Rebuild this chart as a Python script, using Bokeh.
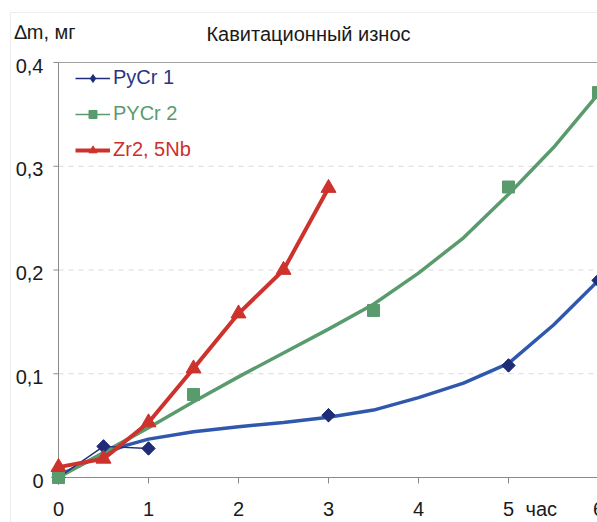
from bokeh.plotting import figure
from bokeh.models import (Range1d, Label, LabelSet, Legend, LegendItem,
                          BoxAnnotation, ColumnDataSource)
from bokeh.core.properties import value
from bokeh.embed import file_html
from bokeh.resources import INLINE

# ---- data ----
x_ticks = [0, 1, 2, 3, 4, 5, 6]
x_tick_labels = ["0", "1", "2", "3", "4", "5", "6"]
y_ticks = [0, 0.1, 0.2, 0.3, 0.4]
y_tick_labels = ["0", "0,1", "0,2", "0,3", "0,4"]

series_names = ["PyCr 1", "PYCr 2", "Zr2, 5Nb"]

hours_pycr1 = [0, 0.5, 1, 3, 5, 6]
dm_pycr1 = [0.0, 0.03, 0.028, 0.06, 0.108, 0.19]

hours_pycr2 = [0, 1.5, 3.5, 5, 6]
dm_pycr2 = [0.0, 0.08, 0.161, 0.28, 0.371]

hours_zr = [0, 0.5, 1, 1.5, 2, 2.5, 3]
dm_zr = [0.01, 0.018, 0.053, 0.105, 0.158, 0.2, 0.279]

# trend curves
trend_hours = [0, 0.25, 0.5, 0.75, 1, 1.5, 2, 2.5, 3, 3.5, 4, 4.5, 5, 5.5, 6]
trend_pycr1 = [0.002, 0.012, 0.023, 0.031, 0.037, 0.044, 0.049, 0.053, 0.058,
               0.065, 0.077, 0.091, 0.11, 0.147, 0.19]
trend_pycr2 = [0.0, 0.012, 0.024, 0.036, 0.048, 0.073, 0.097, 0.12, 0.143,
               0.167, 0.197, 0.231, 0.273, 0.318, 0.37]

title_text = "Кавитационный износ"
y_title = "\u2206m, мг"
x_title = "час"

# ---- layout / styling ----
W, H = 597, 522
X0_PX, X_SCALE = 58, 90.0       # pixel of x=0, pixels per hour
Y0_PX, Y_SCALE = 477, 1037.5    # pixel of y=0, pixels per mg

FONT = "Liberation Sans"
TXT = "#1a1a1a"
NAVY = "#1f2d78"
BLUE = "#2f58ad"
GREEN = "#5a9b6e"
RED = "#cd322d"
AXIS = "#8a8a8a"

p = figure(width=W, height=H, output_backend="svg", toolbar_location=None,
           title=None, x_axis_location=None, y_axis_location=None,
           x_range=Range1d(-X0_PX / X_SCALE, (W - X0_PX) / X_SCALE),
           y_range=Range1d(-(H - Y0_PX) / Y_SCALE, Y0_PX / Y_SCALE),
           min_border=0)
p.outline_line_color = None
p.grid.visible = False
p.background_fill_color = "white"
p.border_fill_color = "white"

# outer chart border
p.add_layout(BoxAnnotation(left=10, right=3000, top=12, bottom=3000,
                           left_units="canvas", right_units="canvas",
                           top_units="canvas", bottom_units="canvas",
                           fill_alpha=0, line_color="#c4c4c4", line_width=1))

# dashed horizontal grid lines
p.segment(x0=[x_ticks[0]] * 3, y0=y_ticks[1:-1], x1=[x_ticks[-1] + 1] * 3, y1=y_ticks[1:-1],
          line_color="#d9d9d9", line_width=1, line_dash="5 5")

# axis lines, top border and tick marks
tick_x = 5 / X_SCALE
tick_y = 6 / Y_SCALE
p.segment(x0=[x_ticks[0]], y0=[y_ticks[0]], x1=[x_ticks[-1] + 1], y1=[y_ticks[0]],
          line_color=AXIS, line_width=1)
p.segment(x0=[x_ticks[0]], y0=[y_ticks[0]], x1=[x_ticks[0]], y1=[y_ticks[-1]],
          line_color=AXIS, line_width=1)
p.segment(x0=[x_ticks[0]], y0=[y_ticks[-1]], x1=[x_ticks[-1] + 1], y1=[y_ticks[-1]],
          line_color="#a0a0a0", line_width=1)
p.segment(x0=[x_ticks[0]] * len(y_ticks), y0=y_ticks,
          x1=[x_ticks[0] - tick_x] * len(y_ticks), y1=y_ticks,
          line_color=AXIS, line_width=1)
p.segment(x0=x_ticks[1:], y0=[y_ticks[0]] * (len(x_ticks) - 1), x1=x_ticks[1:],
          y1=[y_ticks[0] - tick_y] * (len(x_ticks) - 1), line_color=AXIS, line_width=1)

# tick labels
p.add_layout(LabelSet(x="x", y="y", text="t",
                      source=ColumnDataSource(dict(x=x_ticks, y=[y_ticks[0]] * len(x_ticks),
                                                   t=x_tick_labels)),
                      y_offset=-31, text_align="center", text_baseline="middle",
                      text_font=value(FONT), text_font_size=value("20px"),
                      text_color=TXT))
p.add_layout(LabelSet(x="x", y="y", text="t",
                      source=ColumnDataSource(dict(x=[x_ticks[0]] * len(y_ticks), y=y_ticks,
                                                   t=y_tick_labels)),
                      x_offset=-15, y_offset=-3, text_align="right", text_baseline="middle",
                      text_font=value(FONT), text_font_size=value("20px"),
                      text_color=TXT))

# trend lines
p.line(trend_hours, trend_pycr1, line_color=BLUE, line_width=3.5)
l2 = p.line(trend_hours, trend_pycr2, line_color=GREEN, line_width=1.5)
p.line(trend_hours, trend_pycr2, line_color=GREEN, line_width=3.5)

# series
l1 = p.line(hours_pycr1[:3], dm_pycr1[:3], line_color=NAVY, line_width=1.5)
s1 = p.scatter(hours_pycr1, dm_pycr1, marker="diamond", size=13,
               fill_color=NAVY, line_color=NAVY)
p.scatter(hours_pycr1, dm_pycr1, marker="square", angle=0.785398, size=9.5,
          fill_color=NAVY, line_color=NAVY)
s2 = p.scatter(hours_pycr2, dm_pycr2, marker="square", size=12,
               fill_color=GREEN, line_color=GREEN)
l3 = p.line(hours_zr, dm_zr, line_color=RED, line_width=4)
s3 = p.scatter(hours_zr, dm_zr, marker="triangle", size=15,
               fill_color=RED, line_color=RED)

leg_colors = ["#283583", GREEN, "#cc302c"]
leg_rends = [[l1, s1], [l2, s2], [l3, s3]]
leg_y = [433, 397, 361]
for name, col, rends, ly in zip(series_names, leg_colors, leg_rends, leg_y):
    leg = Legend(items=[LegendItem(label=name, renderers=rends)], location=(75, ly),
                 border_line_color=None, background_fill_alpha=0, padding=0, margin=0,
                 spacing=0, glyph_width=35, glyph_height=20, label_standoff=3,
                 label_text_font=FONT, label_text_font_size="20px",
                 label_text_color=col)
    p.add_layout(leg)

p.add_layout(Label(x=x_ticks[0], y=y_ticks[-1], x_offset=250, y_offset=29, text=title_text,
                   text_align="center", text_baseline="middle", text_font=FONT,
                   text_font_size="20px", text_color=TXT))
p.add_layout(Label(x=x_ticks[0], y=y_ticks[-1], x_offset=-44, y_offset=31, text=y_title,
                   text_align="left", text_baseline="middle", text_font=FONT,
                   text_font_size="20px", text_color=TXT))
p.add_layout(Label(x=x_ticks[5], y=y_ticks[0], x_offset=17, y_offset=-31, text=x_title,
                   text_align="left", text_baseline="middle", text_font=FONT,
                   text_font_size="20px", text_color=TXT))

open("out.html", "w").write(file_html(p, INLINE))
